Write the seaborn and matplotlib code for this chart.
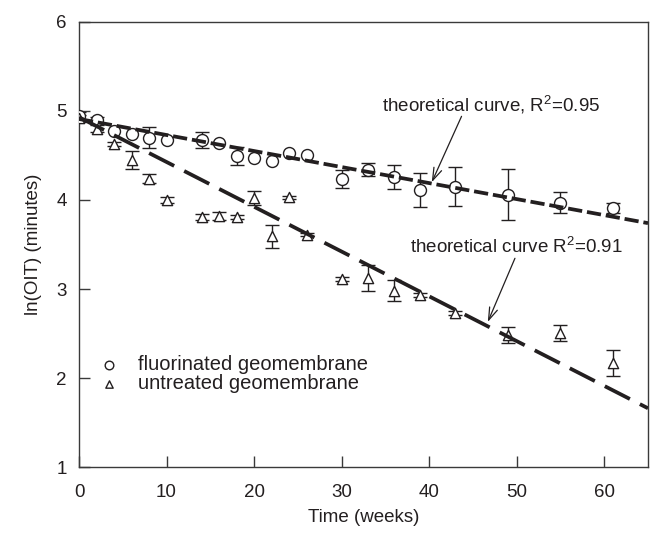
import numpy as np
import pandas as pd
import matplotlib
matplotlib.use("Agg")
import matplotlib.pyplot as plt
import seaborn as sns

# ---- data ----
weeks = [0, 2, 4, 6, 8, 10, 14, 16, 18, 20, 22, 24, 26, 30, 33, 36, 39, 43, 49, 55, 61]
oit_fluorinated = [4.94, 4.90, 4.78, 4.74, 4.70, 4.67, 4.67, 4.64, 4.49, 4.47, 4.44,
                   4.53, 4.51, 4.24, 4.34, 4.26, 4.11, 4.15, 4.06, 3.97, 3.91]
err_fluorinated = [0.05, 0.03, np.nan, np.nan, 0.115, np.nan, 0.09, np.nan, 0.10, np.nan, np.nan,
                   np.nan, np.nan, 0.10, 0.07, 0.135, 0.19, 0.22, 0.29, 0.12, 0.06]
oit_untreated = [4.92, 4.80, 4.63, 4.45, 4.24, 4.00, 3.81, 3.82, 3.81, 4.02, 3.59,
                 4.03, 3.61, 3.11, 3.12, 2.98, 2.93, 2.73, 2.48, 2.51, 2.17]
err_untreated = [0.04, 0.04, 0.02, 0.10, 0.05, 0.03, 0.03, 0.04, 0.02, 0.08, 0.13,
                 0.02, 0.02, 0.02, 0.145, 0.12, 0.02, 0.02, 0.09, 0.09, 0.15]
line_weeks = [0, 65]
line_fluorinated = [4.91, 3.74]
line_untreated = [4.93, 1.66]
x_ticks = [0, 10, 20, 30, 40, 50, 60]
y_ticks = [1, 2, 3, 4, 5, 6]
label_f = "fluorinated geomembrane"
label_u = "untreated geomembrane"

sns.set_style("ticks")
plt.rcParams["font.family"] = ["Liberation Sans", "DejaVu Sans"]
plt.rcParams["mathtext.fontset"] = "custom"
plt.rcParams["mathtext.rm"] = "Liberation Sans"
plt.rcParams["mathtext.it"] = "Liberation Sans:italic"

ink = "#231f20"
spine_c = "#3a3a3a"
fs = 13.5

df_f = pd.DataFrame({"t": weeks, "y": oit_fluorinated, "e": err_fluorinated})
df_u = pd.DataFrame({"t": weeks, "y": oit_untreated, "e": err_untreated})

fig = plt.figure(figsize=(6.59, 5.36), dpi=100)
ax = fig.add_axes([0.1199, 0.1287, 0.8634, 0.8303])

# error bars
for d in (df_f, df_u):
    dd = d.dropna()
    ax.errorbar(dd["t"], dd["y"], yerr=dd["e"], fmt="none", ecolor=ink,
                elinewidth=1.0, capsize=4.8, capthick=1.0, zorder=2)

# markers
sns.scatterplot(data=df_f, x="t", y="y", marker="o", s=74, facecolor="white",
                edgecolor=ink, linewidth=1.0, label=label_f, ax=ax, zorder=3)
sns.scatterplot(data=df_u, x="t", y="y", marker="^", s=54, facecolor="white",
                edgecolor=ink, linewidth=1.0, label=label_u, ax=ax, zorder=3)

# theoretical curves
sns.lineplot(x=line_weeks, y=line_fluorinated, ax=ax, color=ink, lw=2.7,
             linestyle=(0, (3.8, 1.3)), zorder=4, legend=False)
sns.lineplot(x=line_weeks, y=line_untreated, ax=ax, color=ink, lw=2.7,
             linestyle=(0, (7.5, 3.0)), zorder=4, legend=False)

# annotations
ax.text(59.5, 4.99, r"theoretical curve, R$^{\mathrm{2}}$=0.95", ha="right",
        va="baseline", fontsize=fs, color=ink)
ax.annotate("", xy=(40.3, 4.20), xytext=(43.7, 4.94),
            arrowprops=dict(arrowstyle="->,head_length=0.9,head_width=0.3",
                            lw=0.9, color=ink, shrinkA=0, shrinkB=0))
ax.text(62.1, 3.40, r"theoretical curve R$^{\mathrm{2}}$=0.91", ha="right",
        va="baseline", fontsize=fs, color=ink)
ax.annotate("", xy=(46.7, 2.63), xytext=(49.8, 3.345),
            arrowprops=dict(arrowstyle="->,head_length=0.9,head_width=0.3",
                            lw=0.9, color=ink, shrinkA=0, shrinkB=0))

ax.set_xlim(0, 65)
ax.set_ylim(1, 6)
ax.set_xticks(x_ticks)
ax.set_yticks(y_ticks)
ax.set_xlabel("Time (weeks)", fontsize=fs, color=ink, labelpad=6)
ax.set_ylabel("ln(OIT) (minutes)", fontsize=fs, color=ink, labelpad=10)

for s in ax.spines.values():
    s.set_visible(True)
    s.set_color(spine_c)
    s.set_linewidth(1.0)
ax.tick_params(axis="both", direction="in", length=8, width=1.0, color=spine_c,
               labelsize=fs, labelcolor=ink, top=False, right=False)
ax.tick_params(axis="x", pad=12)
ax.tick_params(axis="y", pad=9)

leg_fs = 14.5
leg = ax.legend(loc="upper left", bbox_to_anchor=(0.0344, 0.252), frameon=False,
                borderpad=0, borderaxespad=0, handlelength=1.0, handletextpad=0.97,
                labelspacing=0.0, fontsize=leg_fs, scatterpoints=1, markerscale=0.72)
for t in leg.get_texts():
    t.set_color(ink)

fig.savefig("out.png", dpi=100)
